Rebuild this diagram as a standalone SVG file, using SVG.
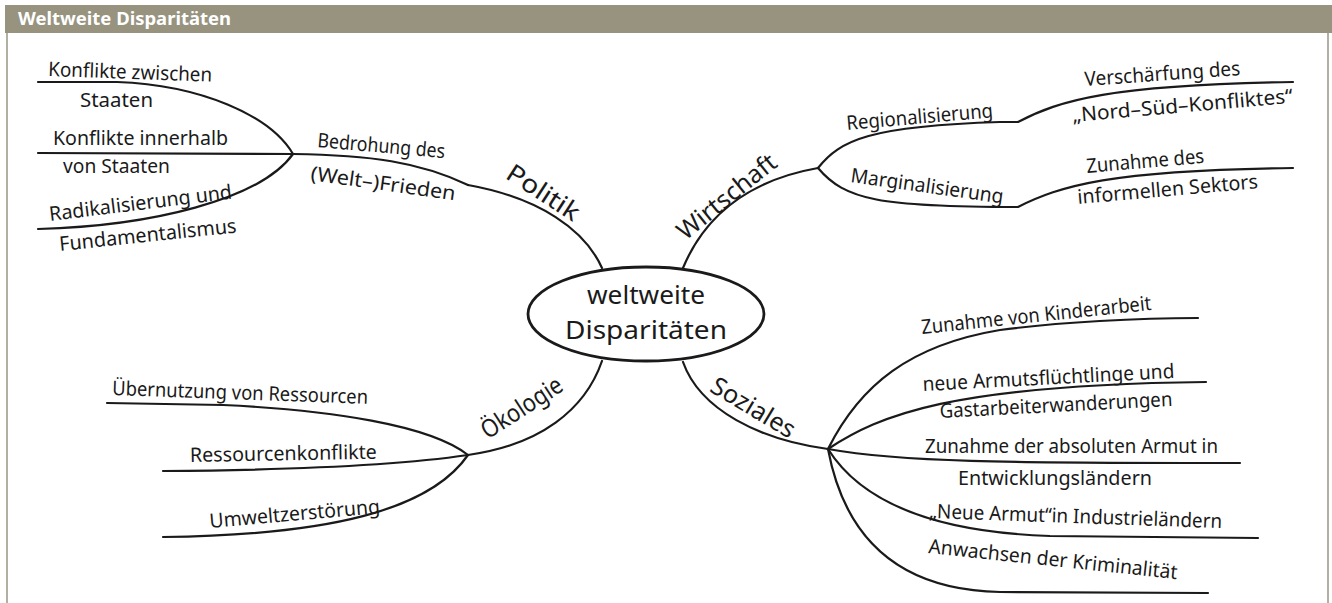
<svg xmlns="http://www.w3.org/2000/svg" width="1332" height="603" viewBox="0 0 1332 603">
<style>
.t{font-family:"Noto Sans","DejaVu Sans",sans-serif;font-size:20px;fill:#1a1a1a}
.b{font-family:"Noto Sans","DejaVu Sans",sans-serif;font-size:25px;fill:#1a1a1a}
.c{font-family:"Noto Sans","DejaVu Sans",sans-serif;font-size:25px;fill:#1a1a1a;text-anchor:middle}
.ln{fill:none;stroke:#1a1a1a;stroke-width:2.2;stroke-linecap:round;stroke-linejoin:round}
.hdr{font-family:"Noto Sans","DejaVu Sans",sans-serif;font-size:17px;font-weight:bold;fill:#ffffff}
</style>
<rect x="0" y="0" width="1332" height="603" fill="#ffffff"/>
<g id="frame">
<rect x="5" y="5" width="1327" height="28" fill="#97937f"/>
<text class="hdr" x="18" y="25" textLength="213" lengthAdjust="spacingAndGlyphs">Weltweite Disparitäten</text>
<line x1="7" y1="33" x2="7" y2="603" stroke="#b3b0a3" stroke-width="2"/>
<line x1="1328" y1="33" x2="1328" y2="603" stroke="#b3b0a3" stroke-width="2"/>
</g>
<g id="connectors">
<path class="ln" d="M602,268 C585,230 540,198 468,185"/>
<path class="ln" d="M468,185 C420,162 370,155 293,154"/>
<path class="ln" d="M38,82 L117,82 C200,85 270,115 293,154"/>
<path class="ln" d="M38,153 L293,154"/>
<path class="ln" d="M38,229 C150,226 260,200 293,154"/>
<path class="ln" d="M683,268 C705,215 750,180 818,168"/>
<path class="ln" d="M818,168 C840,140 870,126 1000,122 L1018,122 C1060,100 1110,85 1293,82"/>
<path class="ln" d="M818,168 C845,200 880,207 1018,207 C1060,186 1110,170 1293,168"/>
<path class="ln" d="M602,361 C585,410 540,445 468,455"/>
<path class="ln" d="M107,403 L223,405 C330,410 430,425 468,455"/>
<path class="ln" d="M163,471 C300,470 400,465 468,455"/>
<path class="ln" d="M163,537 C330,535 430,510 468,455"/>
<path class="ln" d="M683,362 C700,410 760,440 828,449"/>
<path class="ln" d="M828,449 C860,385 910,345 1000,330 C1060,322 1140,318 1198,318"/>
<path class="ln" d="M828,449 C880,415 950,385 1206,382"/>
<path class="ln" d="M828,449 C900,462 1000,463 1240,463"/>
<path class="ln" d="M828,449 C860,500 930,532 1050,536 L1258,538"/>
<path class="ln" d="M828,449 C845,540 900,590 1000,592 L1208,593"/>
</g>
<g id="center">
<ellipse cx="646" cy="314" rx="118" ry="47" fill="#ffffff" stroke="#1a1a1a" stroke-width="2.8"/>
<text class="c" x="646" y="304" textLength="118" lengthAdjust="spacingAndGlyphs">weltweite</text>
<text class="c" x="646" y="339" textLength="162" lengthAdjust="spacingAndGlyphs">Disparitäten</text>
</g>
<g id="politik">
<text class="b" transform="translate(543,193) rotate(33)" x="0" y="8" text-anchor="middle" textLength="82" lengthAdjust="spacingAndGlyphs">Politik</text>
</g>
<g id="bedrohung">
<text class="t" transform="translate(317,147) rotate(5)" textLength="128" lengthAdjust="spacingAndGlyphs">Bedrohung des</text>
<text class="t" transform="translate(310,180) rotate(8)" textLength="146" lengthAdjust="spacingAndGlyphs">(Welt–)Frieden</text>
</g>
<g id="konflikte-zwischen">
<text class="t" transform="translate(48,76) rotate(2)" textLength="164" lengthAdjust="spacingAndGlyphs">Konflikte zwischen</text>
<text class="t" x="80" y="107" textLength="73" lengthAdjust="spacingAndGlyphs">Staaten</text>
</g>
<g id="konflikte-innerhalb">
<text class="t" x="53" y="145" textLength="175" lengthAdjust="spacingAndGlyphs">Konflikte innerhalb</text>
<text class="t" x="63" y="173" textLength="107" lengthAdjust="spacingAndGlyphs">von Staaten</text>
</g>
<g id="radikalisierung">
<text class="t" transform="translate(50,221) rotate(-7)" textLength="184" lengthAdjust="spacingAndGlyphs">Radikalisierung und</text>
<text class="t" transform="translate(60,251) rotate(-6)" textLength="178" lengthAdjust="spacingAndGlyphs">Fundamentalismus</text>
</g>
<g id="wirtschaft">
<text class="b" transform="translate(727,197) rotate(-39)" x="0" y="8" text-anchor="middle" textLength="120" lengthAdjust="spacingAndGlyphs">Wirtschaft</text>
</g>
<g id="regionalisierung">
<text class="t" transform="translate(847,130) rotate(-5)" textLength="147" lengthAdjust="spacingAndGlyphs">Regionalisierung</text>
</g>
<g id="marginalisierung">
<text class="t" transform="translate(850,182) rotate(8)" textLength="154" lengthAdjust="spacingAndGlyphs">Marginalisierung</text>
</g>
<g id="nord-sued">
<text class="t" transform="translate(1085,86) rotate(-4)" textLength="156" lengthAdjust="spacingAndGlyphs">Verschärfung des</text>
<text class="t" transform="translate(1073,122) rotate(-5)" textLength="221" lengthAdjust="spacingAndGlyphs">„Nord–Süd–Konfliktes“</text>
</g>
<g id="informeller-sektor">
<text class="t" transform="translate(1087,173) rotate(-5)" textLength="118" lengthAdjust="spacingAndGlyphs">Zunahme des</text>
<text class="t" transform="translate(1078,204) rotate(-5)" textLength="181" lengthAdjust="spacingAndGlyphs">informellen Sektors</text>
</g>
<g id="oekologie">
<text class="b" transform="translate(522,408) rotate(-33)" x="0" y="8" text-anchor="middle" textLength="92" lengthAdjust="spacingAndGlyphs">Ökologie</text>
</g>
<g id="uebernutzung">
<text class="t" transform="translate(112,395) rotate(2)" textLength="256" lengthAdjust="spacingAndGlyphs">Übernutzung von Ressourcen</text>
</g>
<g id="ressourcenkonflikte">
<text class="t" transform="translate(190,462) rotate(-1)" textLength="187" lengthAdjust="spacingAndGlyphs">Ressourcenkonflikte</text>
</g>
<g id="umweltzerstoerung">
<text class="t" transform="translate(210,528) rotate(-5)" textLength="171" lengthAdjust="spacingAndGlyphs">Umweltzerstörung</text>
</g>
<g id="soziales">
<text class="b" transform="translate(753,408) rotate(31)" x="0" y="8" text-anchor="middle" textLength="94" lengthAdjust="spacingAndGlyphs">Soziales</text>
</g>
<g id="kinderarbeit">
<text class="t" transform="translate(922,334) rotate(-6)" textLength="231" lengthAdjust="spacingAndGlyphs">Zunahme von Kinderarbeit</text>
</g>
<g id="armutsfluechtlinge">
<text class="t" transform="translate(923,391) rotate(-3)" textLength="252" lengthAdjust="spacingAndGlyphs">neue Armutsflüchtlinge und</text>
<text class="t" transform="translate(940,418) rotate(-3)" textLength="233" lengthAdjust="spacingAndGlyphs">Gastarbeiterwanderungen</text>
</g>
<g id="absolute-armut">
<text class="t" x="925" y="453" textLength="293" lengthAdjust="spacingAndGlyphs">Zunahme der absoluten Armut in</text>
<text class="t" x="958" y="485" textLength="194" lengthAdjust="spacingAndGlyphs">Entwicklungsländern</text>
</g>
<g id="neue-armut">
<text class="t" transform="translate(929,518) rotate(2)" textLength="293" lengthAdjust="spacingAndGlyphs">„Neue Armut“in Industrieländern</text>
</g>
<g id="kriminalitaet">
<text class="t" transform="translate(928,553) rotate(6)" textLength="250" lengthAdjust="spacingAndGlyphs">Anwachsen der Kriminalität</text>
</g>
</svg>
